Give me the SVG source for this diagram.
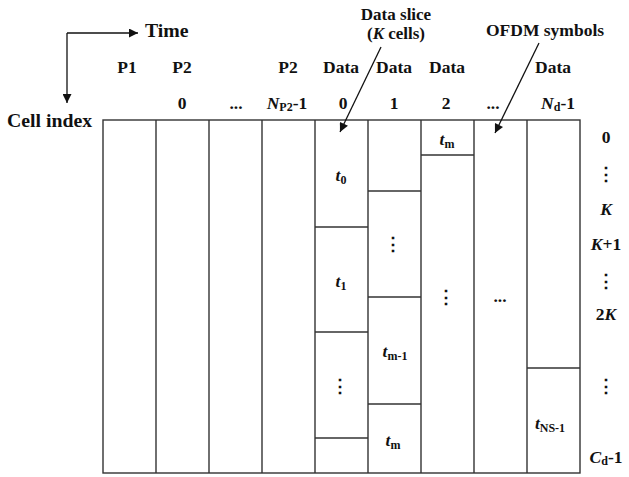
<svg xmlns="http://www.w3.org/2000/svg" width="629" height="477" viewBox="0 0 629 477">
<defs>
<marker id="ah" viewBox="0 0 10 10" refX="10" refY="5" markerWidth="10" markerHeight="9" markerUnits="userSpaceOnUse" orient="auto">
<path d="M0,0 L10,5 L0,10 z" fill="#111"/>
</marker>
<style>
text{font-family:"Liberation Serif","Times New Roman","DejaVu Serif",serif;font-weight:bold;fill:#111;}
.lb{font-size:17.5px;text-anchor:middle;}
.an{font-size:17px;text-anchor:middle;}
.bg{font-size:19.8px;}
.it{font-style:italic;}
.sub{font-size:12px;font-style:normal;}
.cell{fill:#fff;stroke:#333;stroke-width:1.4;}
.ln{stroke:#333;stroke-width:1.4;fill:none;}
.ar{stroke:#111;stroke-width:1.3;fill:none;marker-end:url(#ah);}
</style>
</defs>
<rect width="629" height="477" fill="#fff"/>

<g id="axes">
<line class="ar" x1="67" y1="33" x2="138" y2="33"/>
<line class="ar" x1="67" y1="33" x2="67" y2="103"/>
<text class="bg" x="145" y="37">Time</text>
<text class="bg" x="7" y="127">Cell index</text>
</g>

<g id="grid">
<rect class="cell" x="103" y="120" width="477" height="353"/>
<line class="ln" x1="156" y1="120" x2="156" y2="473"/>
<line class="ln" x1="209" y1="120" x2="209" y2="473"/>
<line class="ln" x1="262" y1="120" x2="262" y2="473"/>
<line class="ln" x1="315" y1="120" x2="315" y2="473"/>
<line class="ln" x1="368" y1="120" x2="368" y2="473"/>
<line class="ln" x1="421" y1="120" x2="421" y2="473"/>
<line class="ln" x1="474" y1="120" x2="474" y2="473"/>
<line class="ln" x1="527" y1="120" x2="527" y2="473"/>
</g>

<g id="data0">
<line class="ln" x1="315" y1="227" x2="368" y2="227"/>
<line class="ln" x1="315" y1="332" x2="368" y2="332"/>
<line class="ln" x1="315" y1="438" x2="368" y2="438"/>
<text class="lb" x="341" y="181"><tspan class="it">t</tspan><tspan class="sub" dy="3">0</tspan></text>
<text class="lb" x="341" y="287"><tspan class="it">t</tspan><tspan class="sub" dy="3">1</tspan></text>
<text class="lb" x="340" y="392">⋮</text>
</g>

<g id="data1">
<line class="ln" x1="368" y1="191" x2="421" y2="191"/>
<line class="ln" x1="368" y1="297" x2="421" y2="297"/>
<line class="ln" x1="368" y1="404" x2="421" y2="404"/>
<text class="lb" x="393" y="250">⋮</text>
<text class="lb" x="395" y="357"><tspan class="it">t</tspan><tspan class="sub" dy="3">m-1</tspan></text>
<text class="lb" x="393" y="446"><tspan class="it">t</tspan><tspan class="sub" dy="3">m</tspan></text>
</g>

<g id="data2">
<line class="ln" x1="421" y1="155" x2="474" y2="155"/>
<text class="lb" x="447" y="145"><tspan class="it">t</tspan><tspan class="sub" dy="3">m</tspan></text>
<text class="lb" x="446" y="303">⋮</text>
</g>

<g id="dataN">
<text class="lb" x="500" y="302">...</text>
<line class="ln" x1="527" y1="368" x2="580" y2="368"/>
<text class="lb" x="550" y="429"><tspan class="it">t</tspan><tspan class="sub" dy="3">NS-1</tspan></text>
</g>

<g id="col-labels">
<text class="lb" x="127" y="73">P1</text>
<text class="lb" x="182" y="73">P2</text>
<text class="lb" x="288" y="73">P2</text>
<text class="lb" x="341" y="73">Data</text>
<text class="lb" x="394" y="73">Data</text>
<text class="lb" x="447" y="73">Data</text>
<text class="lb" x="553" y="73">Data</text>
<text class="lb" x="182" y="109">0</text>
<text class="lb" x="236" y="109">...</text>
<text class="lb" x="287" y="109"><tspan class="it">N</tspan><tspan class="sub" dy="2">P2</tspan><tspan dy="-2">-1</tspan></text>
<text class="lb" x="343" y="109">0</text>
<text class="lb" x="394" y="109">1</text>
<text class="lb" x="446" y="109">2</text>
<text class="lb" x="493" y="109">...</text>
<text class="lb" x="558" y="109"><tspan class="it">N</tspan><tspan class="sub it" dy="2">d</tspan><tspan dy="-2">-1</tspan></text>
</g>

<g id="row-labels">
<text class="lb" x="606" y="143">0</text>
<text class="lb" x="606" y="180">⋮</text>
<text class="lb it" x="606" y="215">K</text>
<text class="lb" x="606" y="250"><tspan class="it">K</tspan>+1</text>
<text class="lb" x="606" y="287">⋮</text>
<text class="lb" x="606" y="320">2<tspan class="it">K</tspan></text>
<text class="lb" x="606" y="392">⋮</text>
<text class="lb" x="606" y="463"><tspan class="it">C</tspan><tspan class="sub it" dy="2">d</tspan><tspan dy="-2">-1</tspan></text>
</g>

<g id="annotations">
<text class="an" x="396" y="20">Data slice</text>
<text class="an" x="396" y="39">(<tspan class="it">K</tspan> cells)</text>
<text class="lb" x="545" y="36">OFDM symbols</text>
</g>

<g id="connectors">
<line class="ar" x1="381" y1="47" x2="340" y2="132"/>
<line class="ar" x1="539" y1="43" x2="495" y2="133"/>
</g>
</svg>
